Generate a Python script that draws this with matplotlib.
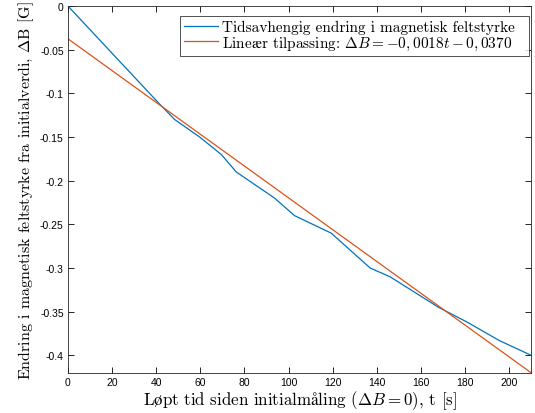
import matplotlib
matplotlib.use("Agg")
import matplotlib.pyplot as plt
from matplotlib.ticker import FixedLocator, FuncFormatter

t_meas = [0, 40.7, 48.4, 59.7, 69.5, 76.3, 93.7, 102.7, 119.3, 137.0, 146.0, 168.0, 181.0, 195.5, 210]
dB_meas = [0, -0.11, -0.13, -0.15, -0.17, -0.19, -0.22, -0.24, -0.26, -0.30, -0.31, -0.345, -0.362, -0.383, -0.40]

# Linear fit endpoints
t_fit = [0, 210]
dB_fit = [-0.0375, -0.42]

x_ticks = [0, 20, 40, 60, 80, 100, 120, 140, 160, 180, 200]
y_ticks = [-0.4, -0.35, -0.3, -0.25, -0.2, -0.15, -0.1, -0.05, 0]

BLUE = "#0072BD"
ORANGE = "#D95319"

plt.rcParams["mathtext.fontset"] = "cm"
serif = "cmr10"

fig = plt.figure(figsize=(5.35, 4.14), dpi=100)
ax = fig.add_axes([0.127, 0.097, 0.866, 0.886])

# trailing spaces give the legend frame some room on the right
ax.plot(t_meas, dB_meas, color=BLUE, lw=0.9,
        label="Tidsavhengig endring i magnetisk feltstyrke  ")
ax.plot(t_fit, dB_fit, color=ORANGE, lw=0.9,
        label=r"Line$\mathrm{æ}$r tilpassing: $\Delta B = -0,0018t - 0,0370$  ")

ax.set_xlim(0, 210)
ax.set_ylim(-0.42, 0)
ax.xaxis.set_major_locator(FixedLocator(x_ticks))
ax.yaxis.set_major_locator(FixedLocator(y_ticks))
ax.yaxis.set_major_formatter(FuncFormatter(lambda v, p: f"{v:g}"))
ax.tick_params(direction="in", top=True, right=True, length=4, width=0.6,
               labelsize=7.5, pad=3)
for lab in ax.get_xticklabels() + ax.get_yticklabels():
    lab.set_fontfamily("Liberation Sans")
for s in ax.spines.values():
    s.set_linewidth(0.6)
    s.set_color("#262626")

ax.set_xlabel(r"L$\mathrm{ø}$pt tid siden initialm$\mathrm{å}$ling ($\Delta B = 0$), t [s]",
              family=serif, fontsize=12.2, labelpad=1)
ax.set_ylabel(r"Endring i magnetisk feltstyrke fra initialverdi, $\Delta$B [G]",
              family=serif, fontsize=11.5, labelpad=3)

leg = ax.legend(loc="upper right", bbox_to_anchor=(0.996, 0.973),
                prop={"family": serif, "size": 11},
                frameon=True, fancybox=False, edgecolor="black",
                borderpad=0.25, labelspacing=0.05, handlelength=2.2,
                handletextpad=0.3, borderaxespad=0)
leg.get_frame().set_linewidth(0.6)

fig.savefig("out.png", dpi=100)
